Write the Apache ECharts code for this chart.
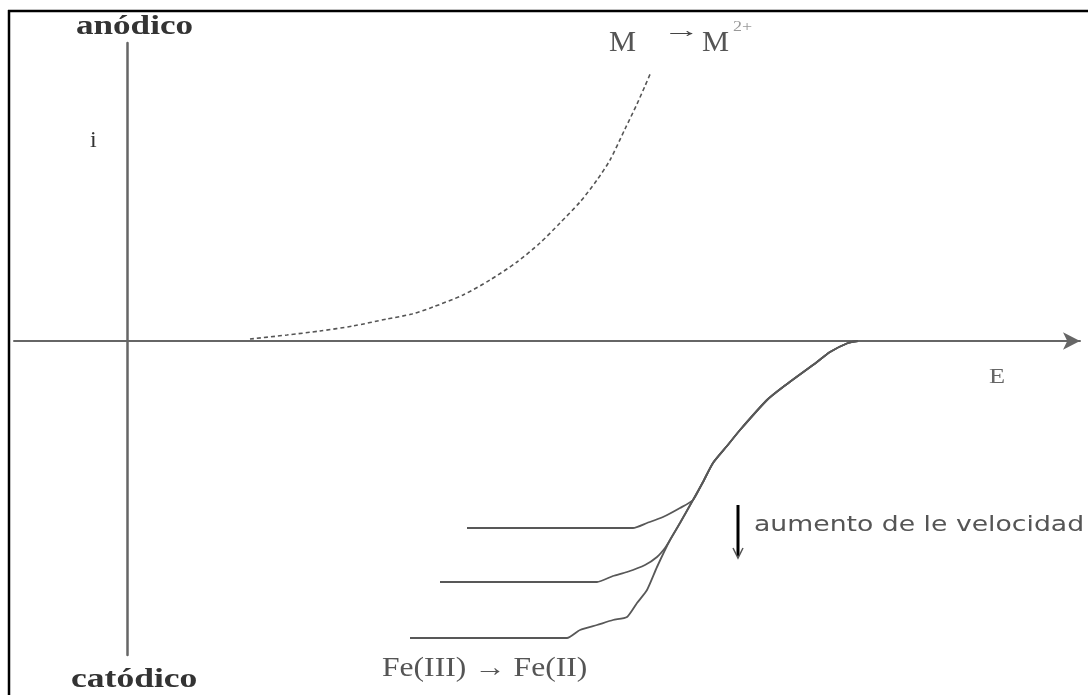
<!DOCTYPE html>
<html>
<head>
<meta charset="utf-8">
<script src="https://cdn.jsdelivr.net/npm/echarts@6/dist/echarts.min.js"></script>
<style>
html,body{margin:0;padding:0;background:#fff;}
#c{width:1088px;height:695px;}
</style>
</head>
<body>
<div id="c"></div>
<script>
// Schematic data (E and i in arbitrary units)
const anodicE = [1.23, 1.60, 1.93, 2.26, 2.60, 2.85, 3.06, 3.36, 3.63, 3.90, 4.13, 4.33, 4.53, 4.70, 4.83, 4.98, 5.10, 5.18, 5.24];
const anodicI = [0.02, 0.06, 0.10, 0.15, 0.22, 0.27, 0.34, 0.46, 0.61, 0.79, 0.98, 1.18, 1.39, 1.61, 1.81, 2.12, 2.37, 2.55, 2.69];

const cath1E = [3.40, 4.96, 5.06, 5.20, 5.36, 5.53, 5.66, 5.76, 5.86, 6.00, 6.13, 6.40, 6.56, 6.90, 7.03, 7.21, 7.31];
const cath1I = [-1.87, -1.87, -1.87, -1.82, -1.76, -1.67, -1.59, -1.41, -1.22, -1.05, -0.89, -0.59, -0.46, -0.21, -0.11, -0.02, 0.00];

const cath2E = [3.13, 4.60, 4.70, 4.86, 5.00, 5.18, 5.30, 5.38, 5.43, 5.53, 5.66, 5.76, 5.86, 6.00, 6.13, 6.40, 6.56, 6.90, 7.03, 7.21, 7.31];
const cath2I = [-2.41, -2.41, -2.41, -2.35, -2.31, -2.24, -2.16, -2.07, -1.99, -1.82, -1.59, -1.41, -1.22, -1.05, -0.89, -0.59, -0.46, -0.21, -0.11, -0.02, 0.00];

const cath3E = [2.83, 4.30, 4.40, 4.53, 4.70, 4.86, 5.00, 5.10, 5.20, 5.30, 5.43, 5.53, 5.66, 5.76, 5.86, 6.00, 6.13, 6.40, 6.56, 6.90, 7.03, 7.21, 7.31];
const cath3I = [-2.97, -2.97, -2.97, -2.89, -2.84, -2.79, -2.76, -2.62, -2.49, -2.26, -1.99, -1.82, -1.59, -1.41, -1.22, -1.05, -0.89, -0.59, -0.46, -0.21, -0.11, -0.02, 0.00];

const axisLabels = { top: 'anódico', bottom: 'catódico', y: 'i', x: 'E' };
const anodicLabel = ['M', '→', 'M', '2+'];
const cathodicLabel = 'Fe(III) → Fe(II)';
const rateLabel = 'aumento de le velocidad';

function pairs(xs, ys) { return xs.map((x, k) => [x, ys[k]]); }

const chart = echarts.init(document.getElementById('c'));
const serif = '"Liberation Serif","DejaVu Serif",serif';
const sans = '"DejaVu Sans","Liberation Sans",sans-serif';

const curveStyle = { color: '#585858', width: 1.8 };

function txt(x, y, text, font, fill, sx) {
  return { type: 'text', x: x, y: y, scaleX: sx || 1, style: { text: text, font: font, fill: fill } };
}

chart.setOption({
  backgroundColor: '#fff',
  animation: false,
  grid: { left: 14, right: 8, top: 43, bottom: 40 },
  xAxis: {
    type: 'value', min: -1.13, max: 9.53,
    axisLine: { onZero: true, symbol: ['none', 'arrow'], symbolSize: [13, 17],
      lineStyle: { color: '#666', width: 2 } },
    axisTick: { show: false }, axisLabel: { show: false }, splitLine: { show: false }
  },
  yAxis: {
    type: 'value', min: -3.14, max: 2.98,
    axisLine: { onZero: true, lineStyle: { color: '#666', width: 2.5 } },
    axisTick: { show: false }, axisLabel: { show: false }, splitLine: { show: false }
  },
  series: [
    { type: 'line', data: pairs(anodicE, anodicI), smooth: 0.25, symbol: 'none',
      lineStyle: { color: '#555', width: 1.6, type: [4, 3] } },
    { type: 'line', data: pairs(cath1E, cath1I), smooth: 0.2, symbol: 'none', lineStyle: curveStyle },
    { type: 'line', data: pairs(cath2E, cath2I), smooth: 0.2, symbol: 'none', lineStyle: curveStyle },
    { type: 'line', data: pairs(cath3E, cath3I), smooth: 0.2, symbol: 'none', lineStyle: curveStyle }
  ],
  graphic: [
    { type: 'line', shape: { x1: 9, y1: 10, x2: 9, y2: 695 }, style: { stroke: '#000', lineWidth: 2.5 } },
    { type: 'line', shape: { x1: 8, y1: 11, x2: 1088, y2: 11 }, style: { stroke: '#000', lineWidth: 2.5 } },
    txt(76, 14, axisLabels.top, 'bold 27px ' + serif, '#333', 1.3),
    txt(71, 666, axisLabels.bottom, 'bold 28px ' + serif, '#333', 1.27),
    txt(90, 129, axisLabels.y, '24px ' + serif, '#333', 1),
    txt(989, 366, axisLabels.x, '22px ' + serif, '#666', 1.2),
    txt(609, 29, anodicLabel[0], '29px ' + serif, '#555', 1.05),
    txt(663, 20, anodicLabel[1], '22px ' + serif, '#444', 1.7),
    txt(702, 29, anodicLabel[2], '29px ' + serif, '#555', 1.05),
    txt(733, 20, anodicLabel[3], '15px ' + serif, '#999', 1.2),
    txt(382, 655, cathodicLabel, '27px ' + serif, '#555', 1.17),
    txt(754, 515, rateLabel, '21px ' + sans, '#555', 1.27),
    { type: 'line', shape: { x1: 738, y1: 505, x2: 738, y2: 556 }, style: { stroke: '#000', lineWidth: 3 } },
    { type: 'polyline', shape: { points: [[733, 548], [738, 558], [743, 548]] }, style: { stroke: '#555', lineWidth: 1.5, fill: null } }
  ]
});
</script>
</body>
</html>
